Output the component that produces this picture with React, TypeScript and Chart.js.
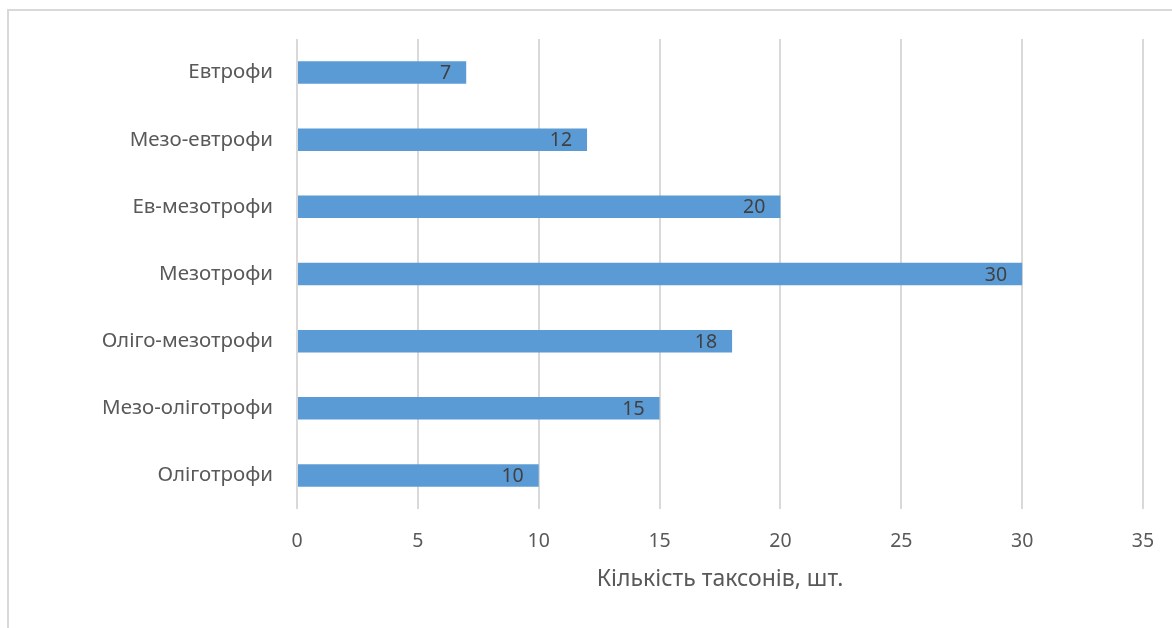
import React, { useEffect, useRef } from "react";
import { Chart, registerables } from "chart.js";

Chart.register(...registerables);

const categories = [
  "Евтрофи",
  "Мезо-евтрофи",
  "Ев-мезотрофи",
  "Мезотрофи",
  "Оліго-мезотрофи",
  "Мезо-оліготрофи",
  "Оліготрофи",
];
const values = [7, 12, 20, 30, 18, 15, 10];
const axisTitle = "Кількість таксонів, шт.";
const xMin = 0;
const xMax = 35;
const xStep = 5;

const FONT = "'Noto Sans', sans-serif";

const frame = {
  id: "frame",
  beforeDraw(chart: any) {
    const { ctx } = chart;
    ctx.save();
    ctx.fillStyle = "#ffffff";
    ctx.fillRect(0, 0, chart.width, chart.height);
    ctx.strokeStyle = "#d9d9d9";
    ctx.lineWidth = 2;
    ctx.beginPath();
    ctx.moveTo(8, chart.height + 5);
    ctx.lineTo(8, 10);
    ctx.lineTo(chart.width + 5, 10);
    ctx.stroke();
    ctx.restore();
  },
};

const dataLabels = {
  id: "dataLabels",
  afterDatasetsDraw(chart: any) {
    const { ctx } = chart;
    const meta = chart.getDatasetMeta(0);
    const ds = chart.data.datasets[0];
    ctx.save();
    ctx.font = `19.5px ${FONT}`;
    ctx.fillStyle = "#404040";
    ctx.textAlign = "right";
    ctx.textBaseline = "middle";
    meta.data.forEach((bar: any, i: number) => {
      ctx.fillText(String(ds.data[i]), bar.x - 15, bar.y + 1);
    });
    ctx.restore();
  },
};

export default function App() {
  const ref = useRef<HTMLCanvasElement>(null);
  useEffect(() => {
    if (!ref.current) return;
    const chart = new Chart(ref.current, {
      type: "bar",
      data: {
        labels: categories,
        datasets: [
          {
            data: values,
            backgroundColor: "#5b9bd5",
            borderWidth: 0,
            categoryPercentage: 1,
            barPercentage: 0.335,
          },
        ],
      },
      options: {
        indexAxis: "y",
        responsive: false,
        animation: false,
        devicePixelRatio: 1,
        layout: { padding: { top: 39, right: 29, bottom: 0, left: 0 } },
        plugins: {
          legend: { display: false },
          tooltip: { enabled: false },
        },
        scales: {
          x: {
            min: xMin,
            max: xMax,
            ticks: {
              stepSize: xStep,
              color: "#595959",
              font: { family: FONT, size: 19.5 },
              padding: 0,
            },
            grid: {
              color: "#d9d9d9",
              lineWidth: 2,
              drawTicks: true,
              tickLength: 21,
              tickColor: "rgba(0,0,0,0)",
            },
            border: { display: false },
            title: {
              display: true,
              text: axisTitle,
              color: "#595959",
              font: { family: FONT, size: 23 },
              padding: { top: 0, bottom: 35 },
            },
            afterFit(scale: any) {
              scale.height = 119;
            },
          },
          y: {
            ticks: {
              color: "#595959",
              font: { family: FONT, size: 20.5 },
              padding: 24,
            },
            grid: { display: false, drawTicks: false },
            border: { display: false },
            afterFit(scale: any) {
              scale.width = 297;
            },
          },
        },
      },
      plugins: [frame, dataLabels],
    });
    return () => chart.destroy();
  }, []);
  return (
    <div style={{ position: "absolute", left: 0, top: 0, width: 1172, height: 628 }}>
      <canvas ref={ref} width={1172} height={628} />
    </div>
  );
}
